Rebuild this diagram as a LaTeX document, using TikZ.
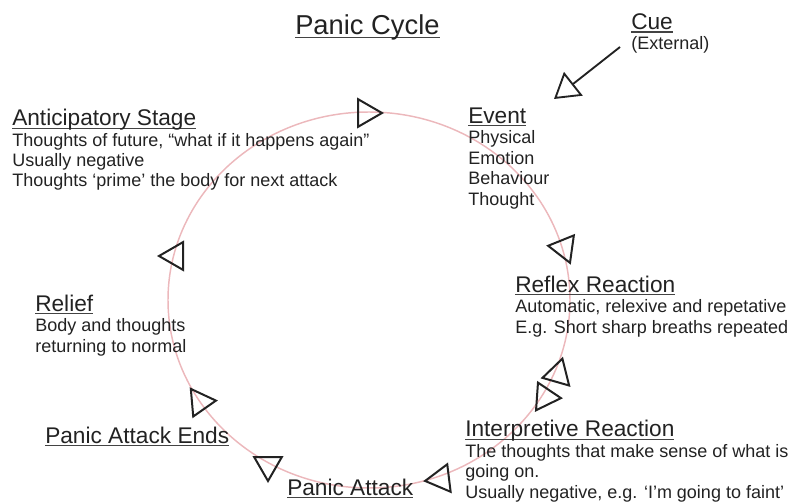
\documentclass[tikz,border=0pt]{standalone}
\usepackage{fontspec}
\setmainfont{Liberation Sans}
\definecolor{cyclepink}{RGB}{236,184,188}
\definecolor{inkgray}{RGB}{34,34,34}
\usetikzlibrary{arrows.meta, shapes.geometric}
\newcommand{\hdul}[1]{\setbox0=\hbox{#1}\rlap{\color{inkgray!85}\vrule width\wd0 height -1.3pt depth 2.3pt}\box0}
\newcommand{\stagehead}[1]{{\fontsize{17}{18}\selectfont\hdul{#1}}}
\tikzset{
	stage/.style={anchor=base west, inner sep=0pt, align=left, text=inkgray, font=\fontsize{13.5}{15.3}\selectfont},
	cycletri/.style={regular polygon, regular polygon sides=3, draw=inkgray, line width=1.5pt, minimum size=24pt, inner sep=0pt},
	cuearrow/.style={-{Triangle[open, length=18.5pt, width=22.5pt]}, line width=1.4pt, draw=inkgray},
	cycleline/.style={draw=cyclepink, line width=1.1pt},
}
\begin{document}
\begin{tikzpicture}[x=0.75pt, y=-0.75pt]
	\useasboundingbox (0,0) rectangle (794,503);
	\draw[cycleline] (369,300) ellipse [x radius=201, y radius=188];
	% text blocks, placed by the baseline of their last line
	\node[stage] (title) at (295,35) {{\fontsize{20.5}{22}\selectfont\hdul{Panic Cycle}}};
	\node[stage] (cue) at (631,50) {\stagehead{Cue}\\(External)};
	\node[stage] (ant) at (12,187) {\stagehead{Anticipatory Stage}\\Thoughts of future, “what if it happens again”\\Usually negative\\Thoughts ‘prime’ the body for next attack};
	\node[stage] (evt) at (468,205) {\stagehead{Event}\\Physical\\Emotion\\Behaviour\\Thought};
	\node[stage] (rfx) at (515,333) {\stagehead{Reflex Reaction}\\Automatic, relexive and repetative\\E.g. Short sharp breaths repeated};
	\node[stage] (intp) at (465,498) {\stagehead{Interpretive Reaction}\\The thoughts that make sense of what is\\going on.\\Usually negative, e.g. ‘I’m going to faint’};
	\node[stage] (atk) at (287,495) {\stagehead{Panic Attack}};
	\node[stage] (ends) at (45,443) {\stagehead{Panic Attack Ends}};
	\node[stage] (relief) at (35,352) {\stagehead{Relief}\\Body and thoughts\\returning to normal};
	% arrowheads round the cycle
	\node[cycletri, rotate=-90] (tant) at (366,113) {};
	\node[cycletri, rotate=-158] (tevt) at (564,248) {};
	\node[cycletri, rotate=-16] (trfx) at (558,374) {};
	\node[cycletri, rotate=146] (tintp) at (545,397) {};
	\node[cycletri, rotate=97] (tatk) at (441,479) {};
	\node[cycletri, rotate=180] (tends) at (268,465) {};
	\node[cycletri, rotate=-85] (trelief) at (200,402) {};
	\node[cycletri, rotate=90] (tback) at (175,256) {};
	\coordinate (cuetip) at (554,99);
	\draw[cuearrow] ([shift={(-11,-3)}]cue.base west) -- (cuetip);
\end{tikzpicture}
\end{document}
